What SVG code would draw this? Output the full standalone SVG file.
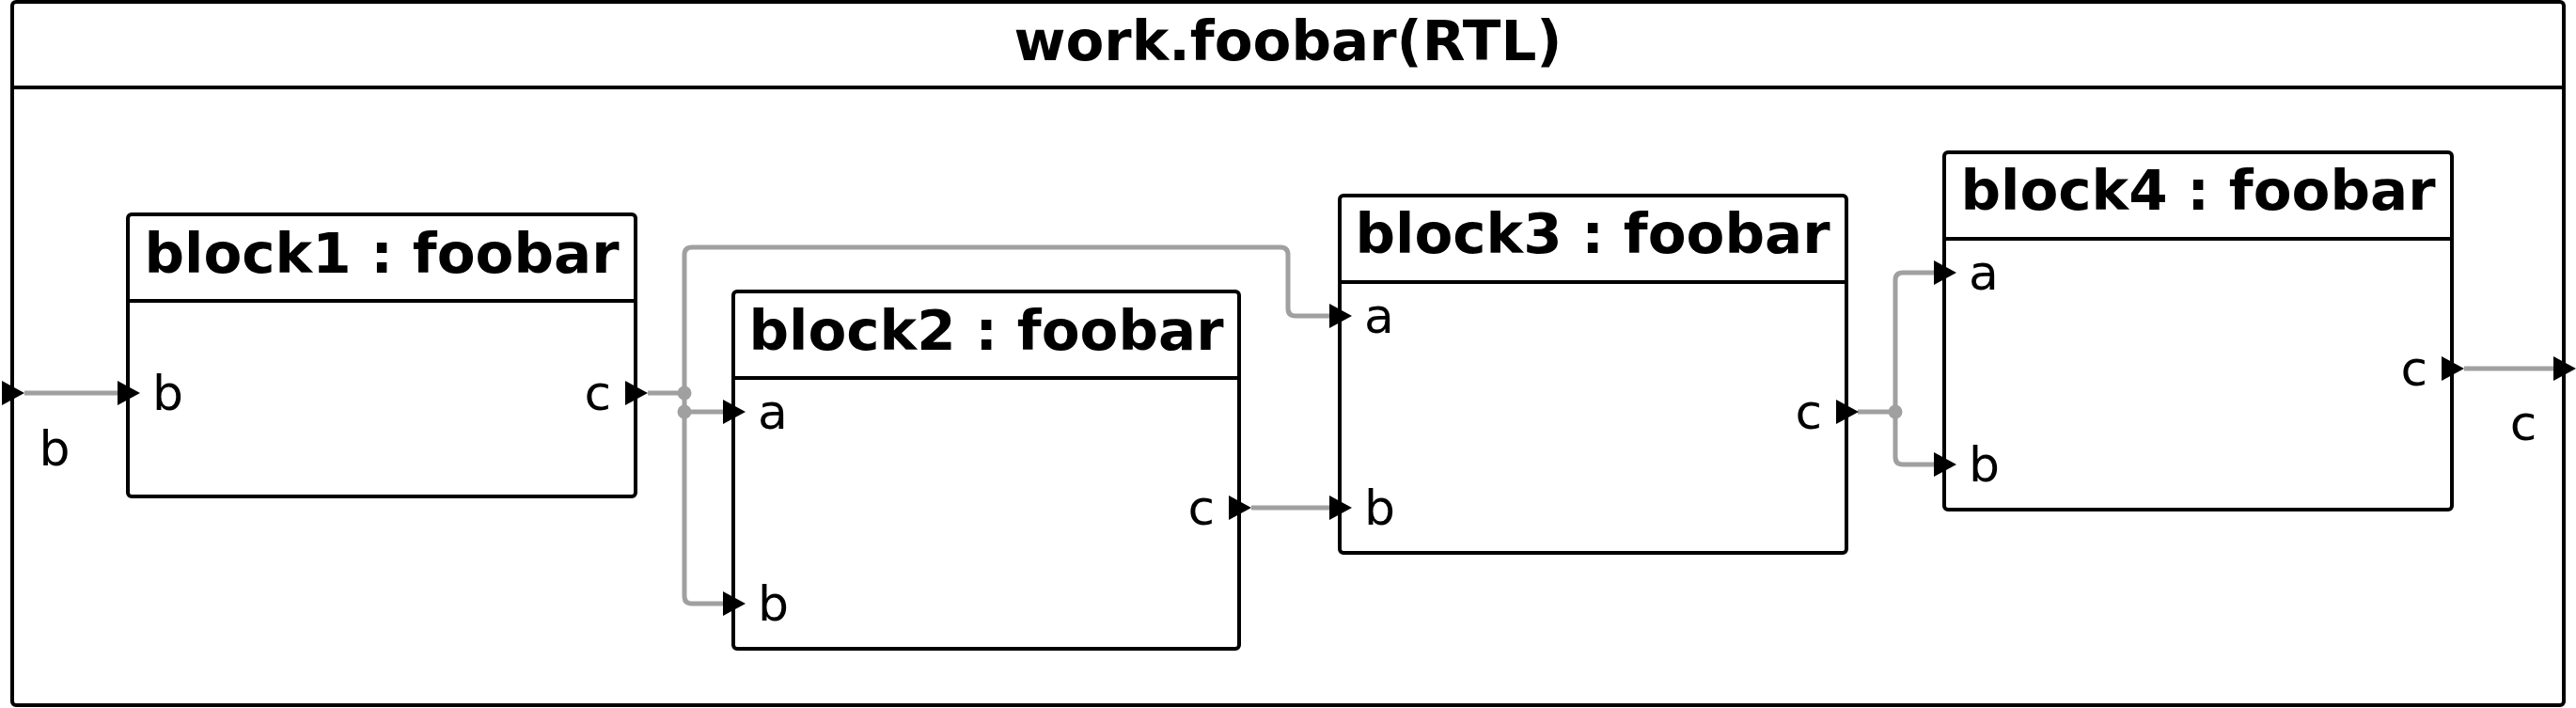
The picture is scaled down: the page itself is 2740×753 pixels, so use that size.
<svg xmlns="http://www.w3.org/2000/svg" xmlns:xlink="http://www.w3.org/1999/xlink" width="2740" height="753" viewBox="0 0 2740 753">
<style>
.frame{fill:#fff;stroke:#000;stroke-width:4}
.blk{fill:#fff;stroke:#000;stroke-width:4}
.sep{stroke:#000;stroke-width:4}
.title{font-family:"DejaVu Sans",sans-serif;font-weight:bold;font-size:59.5px;fill:#000;text-anchor:middle}
.port{font-family:"DejaVu Sans",sans-serif;font-size:52px;fill:#000}
.r{text-anchor:end}
.m{text-anchor:middle}
.wire{fill:none;stroke:#a0a0a0;stroke-width:5}
.dot{fill:#a0a0a0}
.tri{fill:#000}
</style>
<defs>
<path id="tri" class="tri" d="M-11,-13 L13,0 L-11,13 Z"/>
</defs>
<g id="top">
<rect class="frame" x="13" y="2" width="2714" height="748" rx="4"/>
<line class="sep" x1="13" y1="93" x2="2727" y2="93"/>
<text class="title" x="1370" y="64">work.foobar(RTL)</text>
<use xlink:href="#tri" x="13" y="418"/>
<text class="port m" x="58" y="495">b</text>
<use xlink:href="#tri" x="2727" y="392"/>
<text class="port m" x="2684" y="468">c</text>
</g>
<g id="connectors">
<path class="wire" d="M26,418 H125"/>
<path class="wire" d="M689,418 H728"/>
<path class="wire" d="M728,418 V271 Q728,263 736,263 H1362 Q1370,263 1370,271 V328 Q1370,336 1378,336 H1414"/>
<path class="wire" d="M728,418 V438 H769"/>
<path class="wire" d="M728,438 V634 Q728,642 736,642 H769"/>
<circle class="dot" cx="728" cy="418" r="7.5"/>
<circle class="dot" cx="728" cy="438" r="7.5"/>
<path class="wire" d="M1331,540 H1414"/>
<path class="wire" d="M1976,438 H2016"/>
<path class="wire" d="M2016,438 V298 Q2016,290 2024,290 H2057"/>
<path class="wire" d="M2016,438 V486 Q2016,494 2024,494 H2057"/>
<circle class="dot" cx="2016" cy="438" r="7.5"/>
<path class="wire" d="M2621,392 H2716"/>
</g>
<g id="block1">
<rect class="blk" x="136" y="228" width="540" height="300" rx="4"/>
<line class="sep" x1="136" y1="320" x2="676" y2="320"/>
<text class="title" x="406" y="290">block1 : foobar</text>
<use xlink:href="#tri" x="136" y="418"/>
<text class="port" x="162" y="436">b</text>
<use xlink:href="#tri" x="676" y="418"/>
<text class="port r" x="650" y="436">c</text>
</g>
<g id="block2">
<rect class="blk" x="780" y="310" width="538" height="380" rx="4"/>
<line class="sep" x1="780" y1="402" x2="1318" y2="402"/>
<text class="title" x="1049" y="372">block2 : foobar</text>
<use xlink:href="#tri" x="780" y="438"/>
<text class="port" x="806" y="456">a</text>
<use xlink:href="#tri" x="780" y="642"/>
<text class="port" x="806" y="660">b</text>
<use xlink:href="#tri" x="1318" y="540"/>
<text class="port r" x="1292" y="558">c</text>
</g>
<g id="block3">
<rect class="blk" x="1425" y="208" width="539" height="380" rx="4"/>
<line class="sep" x1="1425" y1="300" x2="1964" y2="300"/>
<text class="title" x="1694" y="269">block3 : foobar</text>
<use xlink:href="#tri" x="1425" y="336"/>
<text class="port" x="1451" y="354">a</text>
<use xlink:href="#tri" x="1425" y="540"/>
<text class="port" x="1451" y="558">b</text>
<use xlink:href="#tri" x="1964" y="438"/>
<text class="port r" x="1938" y="456">c</text>
</g>
<g id="block4">
<rect class="blk" x="2068" y="162" width="540" height="380" rx="4"/>
<line class="sep" x1="2068" y1="254" x2="2608" y2="254"/>
<text class="title" x="2338" y="223">block4 : foobar</text>
<use xlink:href="#tri" x="2068" y="290"/>
<text class="port" x="2094" y="308">a</text>
<use xlink:href="#tri" x="2068" y="494"/>
<text class="port" x="2094" y="512">b</text>
<use xlink:href="#tri" x="2608" y="392"/>
<text class="port r" x="2582" y="410">c</text>
</g>
</svg>
